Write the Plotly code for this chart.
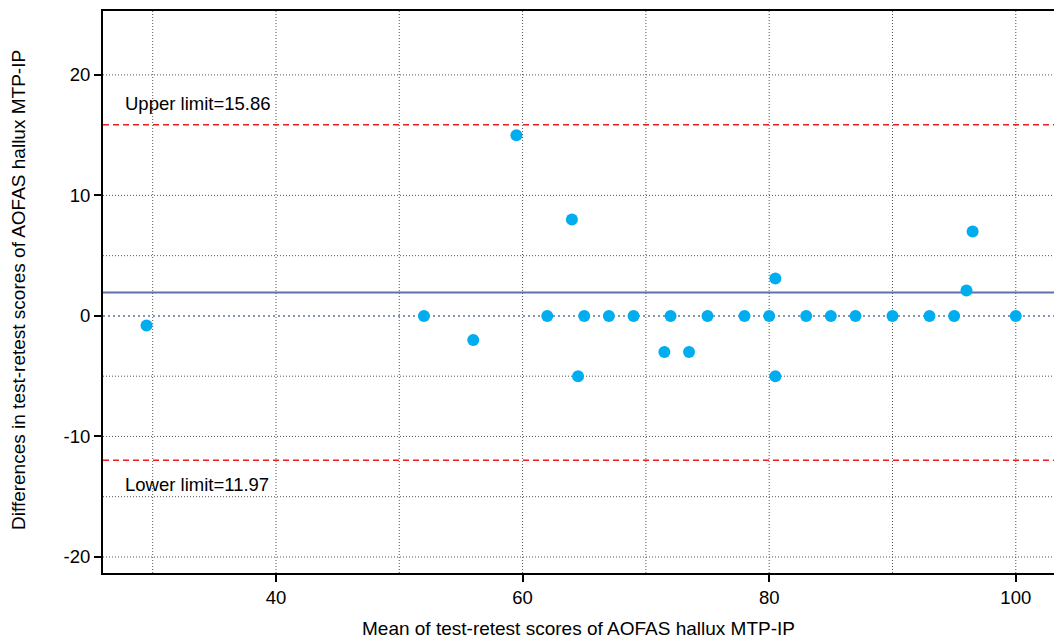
import plotly.graph_objects as go

# Data
mean_scores = [29.5, 52, 56, 59.5, 62, 64, 64.5, 65, 67, 69, 71.5, 72, 73.5, 75, 78, 80,
               80.5, 80.5, 83, 85, 87, 90, 93, 95, 96, 96.5, 100]
differences = [-0.8, 0, -2, 15, 0, 8, -5, 0, 0, 0, -3, 0, -3, 0, 0, 0,
               3.1, -5, 0, 0, 0, 0, 0, 0, 2.1, 7, 0]
upper_limit = 15.86
lower_limit = -11.97
mean_diff = (upper_limit + lower_limit) / 2
upper_label = "Upper limit=15.86"
lower_label = "Lower limit=11.97"
x_tickvals = [40, 60, 80, 100]
x_ticktext = ["40", "60", "80", "100"]
y_tickvals = [-20, -10, 0, 10, 20]
y_ticktext = ["-20", "-10", "0", "10", "20"]
x_gridvals = [30, 40, 50, 60, 70, 80, 90, 100]
y_gridvals = [20, 10, 5, -5, -10, -15, -20]
x_title = "Mean of test-retest scores of AOFAS hallux MTP-IP"
y_title = "Differences in test-retest scores of AOFAS hallux MTP-IP"

x_range = [25.97, 103.1]
y_range = [-21.33, 25.3]

fig = go.Figure()

grid_line = dict(color="#555555", width=1, dash="1px,2px")
shapes = []
for gx in x_gridvals:
    shapes.append(dict(type="line", xref="x", yref="paper", x0=gx, x1=gx, y0=0, y1=1,
                       line=grid_line, layer="below"))
for gy in y_gridvals:
    shapes.append(dict(type="line", xref="paper", yref="y", x0=0, x1=1, y0=gy, y1=gy,
                       line=grid_line, layer="below"))
# zero line (blue dotted)
shapes.append(dict(type="line", xref="paper", yref="y", x0=0, x1=1, y0=0, y1=0,
                   line=dict(color="#6070a8", width=1.5, dash="2px,3px"), layer="below"))
# mean line
shapes.append(dict(type="line", xref="paper", yref="y", x0=0, x1=1, y0=mean_diff, y1=mean_diff,
                   line=dict(color="#6070a8", width=2), layer="below"))
# limits
for lim in (upper_limit, lower_limit):
    shapes.append(dict(type="line", xref="paper", yref="y", x0=0, x1=1, y0=lim, y1=lim,
                       line=dict(color="#ee1c1c", width=1.5, dash="6px,4px"), layer="below"))

fig.add_trace(go.Scatter(
    x=mean_scores, y=differences, mode="markers",
    marker=dict(color="#00aeef", size=12, line=dict(width=0)),
    showlegend=False, cliponaxis=False,
))

fig.update_layout(
    width=1054, height=639,
    margin=dict(l=103, r=0, t=11, b=66),
    plot_bgcolor="white", paper_bgcolor="white",
    font=dict(family="Liberation Sans, Arial, sans-serif", size=16, color="black"),
    shapes=shapes,
    annotations=[
        dict(x=27.6, y=17.6, xref="x", yref="y", text=upper_label, showarrow=False,
             xanchor="left", yanchor="middle", font=dict(size=18.5)),
        dict(x=27.6, y=-13.97, xref="x", yref="y", text=lower_label, showarrow=False,
             xanchor="left", yanchor="middle", font=dict(size=18.5)),
        dict(x=0.5, y=-55 / 562, xref="paper", yref="paper", text=x_title, showarrow=False,
             xanchor="center", yanchor="middle", font=dict(size=19)),
        dict(x=-85 / 951, y=(573 - 290) / 562, xref="paper", yref="paper", text=y_title,
             showarrow=False, xanchor="center", yanchor="middle", textangle=-90,
             font=dict(size=19)),
    ],
    xaxis=dict(range=x_range, tickvals=x_tickvals, ticktext=x_ticktext, showgrid=False,
               zeroline=False, automargin=False,
               showline=True, linecolor="black", linewidth=2, mirror=True,
               ticks="outside", ticklen=7, tickwidth=2, tickcolor="black",
               tickfont=dict(size=18.5)),
    yaxis=dict(range=y_range, tickvals=y_tickvals, ticktext=y_ticktext, showgrid=False,
               zeroline=False, automargin=False,
               showline=True, linecolor="black", linewidth=2, mirror=False,
               ticks="outside", ticklen=7, tickwidth=2, tickcolor="black",
               tickfont=dict(size=18.5)),
)

fig.write_html(
    "out.html",
    config={"displayModeBar": False},
    post_script="document.body.style.margin='0';document.body.style.overflow='hidden';",
)
